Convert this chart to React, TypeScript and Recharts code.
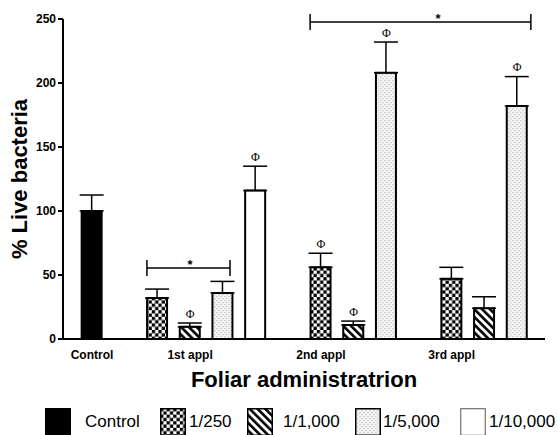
import React from 'react';
import {
  ComposedChart,
  Bar,
  Cell,
  ErrorBar,
  XAxis,
  YAxis,
  Scatter,
  ReferenceLine,
  ReferenceDot,
  Legend,
  Label,
} from 'recharts';

const FONT = "'Liberation Sans', Arial, Helvetica, sans-serif";
const SERIF = "'Liberation Serif', 'Times New Roman', serif";

// ---- data ----
const categories = ['Control', '1st appl', '2nd appl', '3rd appl'];
const categoryTickSlot = [0, 3, 7, 11];
const categoryFirstSlot = [0, 2, 7, 11];
const treatments = ['Control', '1/250', '1/1,000', '1/5,000', '1/10,000'];

const meanControl = [100, null, null, null];
const semControl = [12.5, null, null, null];
const mean250 = [null, 32, 56, 47];
const sem250 = [null, 7, 11, 9];
const mean1000 = [null, 9.5, 11, 24];
const sem1000 = [null, 3, 3, 9];
const mean5000 = [null, 36, 208, 182];
const sem5000 = [null, 9, 24, 23];
const mean10000 = [null, 116, null, null];
const sem10000 = [null, 19, null, null];

const phiControl = [false, false, false, false];
const phi250 = [false, false, true, false];
const phi1000 = [false, true, true, false];
const phi5000 = [false, false, true, true];
const phi10000 = [false, true, false, false];

const yTicks = [0, 50, 100, 150, 200, 250];

const bracketFrom = [1.68, 6.67];
const bracketTo = [4.22, 13.42];
const bracketY = [55.5, 247.7];
const bracketStarX = [3.0, 10.58];
const bracketEnd = 6.25;

// ---- styles ----
const treatmentFill = ['#000000', 'url(#pat250)', 'url(#pat1000)', 'url(#pat5000)', '#ffffff'];
const legendLeft = [45, 160, 247, 355, 460];
const legendTextGap = [14, 3, 10, 2, 3];

// ---- build tables ----
const means = [meanControl, mean250, mean1000, mean5000, mean10000];
const sems = [semControl, sem250, sem1000, sem5000, sem10000];
const phis = [phiControl, phi250, phi1000, phi5000, phi10000];

const slotOf = (t: number, c: number) => (c === 0 ? categoryFirstSlot[0] : categoryFirstSlot[c] + t - 1);

type Row = { x: number; value: number; err: [number, number]; t: number };
const barRows: Row[] = [];
const phiRows: { x: number; y: number }[] = [];
treatments.forEach((_, t) => {
  categories.forEach((__, c) => {
    const m = means[t][c];
    if (m == null) return;
    const s = (sems[t][c] as number) ?? 0;
    barRows.push({ x: slotOf(t, c), value: m as number, err: [0, s], t });
    if (phis[t][c]) phiRows.push({ x: slotOf(t, c), y: (m as number) + s });
  });
});
barRows.sort((a, b) => a.x - b.x);

const XTick = (props: any) => {
  const { x, y, payload } = props;
  const idx = categoryTickSlot.indexOf(payload.value);
  return (
    <text x={x} y={y + 20} textAnchor="middle" fontSize={12} fontWeight="bold" fill="#000" fontFamily={FONT}>
      {categories[idx]}
    </text>
  );
};

const renderLegend = () => (
  <div style={{ position: 'relative', width: 558, height: 30 }}>
    {treatments.map((name, i) => (
      <div
        key={name}
        style={{ position: 'absolute', left: legendLeft[i], top: 3, display: 'flex', alignItems: 'center' }}
      >
        <svg width={26} height={28} style={{ display: 'block' }}>
          <rect
            x={0.75}
            y={0.75}
            width={24.5}
            height={26.5}
            fill={treatmentFill[i]}
            stroke={i === 4 ? '#555' : '#000'}
            strokeWidth={i === 4 ? 1 : 1.5}
          />
        </svg>
        <span
          style={{
            marginLeft: legendTextGap[i],
            fontSize: 17,
            fontFamily: FONT,
            color: '#000',
            lineHeight: '28px',
            whiteSpace: 'nowrap',
          }}
        >
          {name}
        </span>
      </div>
    ))}
  </div>
);

export default function App() {
  return (
    <div style={{ position: 'absolute', left: 0, top: 0, width: 558, height: 435, background: '#fff' }}>
      <ComposedChart
        width={558}
        height={435}
        data={barRows}
        margin={{ top: 19, right: 13, left: 0, bottom: 0 }}
      >
        <defs>
          <pattern id="pat250" patternUnits="userSpaceOnUse" width={6.6} height={6.6}>
            <rect x={0} y={0} width={6.6} height={6.6} fill="#fff" />
            <rect x={0} y={0} width={3.3} height={3.3} fill="#000" />
            <rect x={3.3} y={3.3} width={3.3} height={3.3} fill="#000" />
          </pattern>
          <pattern
            id="pat1000"
            patternUnits="userSpaceOnUse"
            width={5.5}
            height={5.5}
            patternTransform="rotate(-45)"
          >
            <rect x={0} y={0} width={5.5} height={5.5} fill="#fff" />
            <rect x={0} y={0} width={2.6} height={5.5} fill="#000" />
          </pattern>
          <pattern id="pat5000" patternUnits="userSpaceOnUse" width={4} height={4}>
            <rect x={0} y={0} width={4} height={4} fill="#f4f4f4" />
            <path d="M0.2,0.4 Q1,2 1.8,0.4" fill="none" stroke="#8a8a8a" strokeWidth={0.5} />
            <path d="M2.2,2.4 Q3,4 3.8,2.4" fill="none" stroke="#8a8a8a" strokeWidth={0.5} />
          </pattern>
        </defs>
        <XAxis
          type="number"
          dataKey="x"
          domain={[-0.887, 13.853]}
          allowDataOverflow
          ticks={categoryTickSlot}
          interval={0}
          tick={<XTick />}
          tickLine={false}
          tickSize={0}
          tickMargin={0}
          axisLine={{ stroke: '#000', strokeWidth: 2 }}
          height={66}
        >
          <Label
            content={(p: any) => {
              const vb = p.viewBox || {};
              return (
                <text
                  x={vb.x + vb.width / 2}
                  y={vb.y + 48}
                  textAnchor="middle"
                  fontSize={22}
                  fontWeight="bold"
                  fill="#000"
                  fontFamily={FONT}
                >
                  Foliar administratrion
                </text>
              );
            }}
          />
        </XAxis>
        <YAxis
          type="number"
          domain={[0, 250]}
          ticks={yTicks}
          interval={0}
          width={63}
          tickSize={5}
          tickMargin={2}
          tick={{ fontSize: 12, fontWeight: 'bold', fill: '#000', fontFamily: FONT }}
          tickLine={{ stroke: '#000', strokeWidth: 2 }}
          axisLine={{ stroke: '#000', strokeWidth: 2 }}
        >
          <Label
            content={(p: any) => {
              const vb = p.viewBox || {};
              const cx = vb.x + 27;
              const cy = vb.y + vb.height / 2;
              return (
                <text
                  x={cx}
                  y={cy}
                  transform={`rotate(-90, ${cx}, ${cy})`}
                  textAnchor="middle"
                  fontSize={22}
                  fontWeight="bold"
                  fill="#000"
                  fontFamily={FONT}
                >
                  % Live bacteria
                </text>
              );
            }}
          />
        </YAxis>
        <Bar dataKey="value" barSize={20} stroke="#000" strokeWidth={2} isAnimationActive={false}>
          {barRows.map((r, i) => (
            <Cell key={i} fill={treatmentFill[r.t]} />
          ))}
          <ErrorBar
            dataKey="err"
            width={12}
            stroke="#000"
            strokeWidth={1.5}
            direction="y"
            isAnimationActive={false}
          />
        </Bar>
        <Scatter
          data={phiRows}
          dataKey="y"
          isAnimationActive={false}
          legendType="none"
          shape={(p: any) => (
            <text
              x={p.cx}
              y={p.cy - 5.5}
              textAnchor="middle"
              fontSize={12}
              fill="#000"
              fontFamily={SERIF}
            >
              Φ
            </text>
          )}
        />
        {bracketY.map((h, i) => (
          <ReferenceLine
            key={`b${i}`}
            segment={[
              { x: bracketFrom[i], y: h },
              { x: bracketTo[i], y: h },
            ]}
            stroke="#000"
            strokeWidth={1.5}
            ifOverflow="visible"
          />
        ))}
        {bracketY.map((h, i) => (
          <ReferenceLine
            key={`l${i}`}
            segment={[
              { x: bracketFrom[i], y: h - bracketEnd },
              { x: bracketFrom[i], y: h + bracketEnd },
            ]}
            stroke="#000"
            strokeWidth={1.5}
            ifOverflow="visible"
          />
        ))}
        {bracketY.map((h, i) => (
          <ReferenceLine
            key={`r${i}`}
            segment={[
              { x: bracketTo[i], y: h - bracketEnd },
              { x: bracketTo[i], y: h + bracketEnd },
            ]}
            stroke="#000"
            strokeWidth={1.5}
            ifOverflow="visible"
          />
        ))}
        {bracketY.map((h, i) => (
          <ReferenceDot
            key={`s${i}`}
            x={bracketStarX[i]}
            y={h}
            r={0}
            ifOverflow="visible"
            shape={(p: any) => (
              <text
                x={p.cx}
                y={p.cy + 1}
                textAnchor="middle"
                fontSize={13}
                fontWeight="bold"
                fill="#000"
                fontFamily={FONT}
              >
                *
              </text>
            )}
          />
        ))}
        <Legend
          content={renderLegend}
          verticalAlign="bottom"
          wrapperStyle={{ top: 405, left: 0, bottom: 'auto', width: 558, height: 30 }}
        />
      </ComposedChart>
    </div>
  );
}
